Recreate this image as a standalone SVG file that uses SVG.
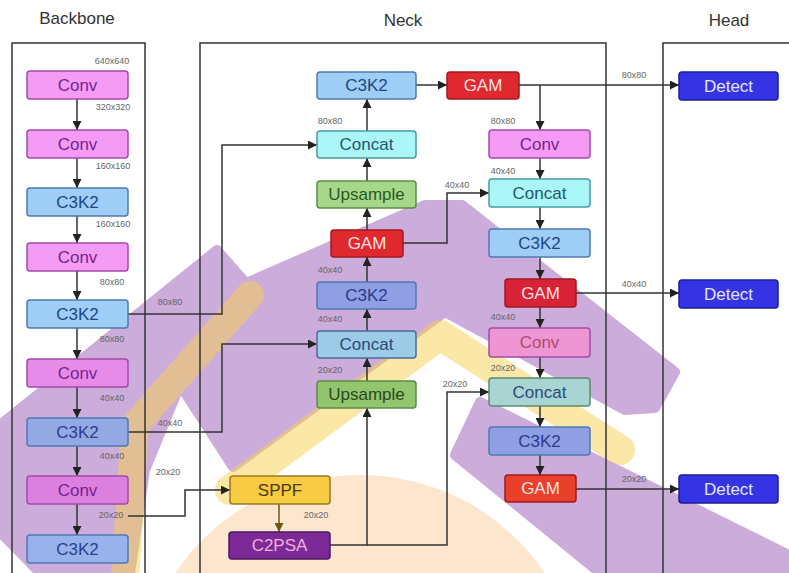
<svg xmlns="http://www.w3.org/2000/svg" width="789" height="573" viewBox="0 0 789 573">
<defs>
<marker id="arr" viewBox="0 0 10 10" refX="10" refY="5" markerWidth="9" markerHeight="9" markerUnits="userSpaceOnUse" orient="auto"><path d="M0,0 L10,5 L0,10 z" fill="#222"/></marker>
<marker id="arrO" viewBox="0 0 10 10" refX="10" refY="5" markerWidth="9" markerHeight="9" markerUnits="userSpaceOnUse" orient="auto"><path d="M0,0 L10,5 L0,10 z" fill="#6a5a10"/></marker>
<style>
.t{font-family:"Liberation Sans",Arial,sans-serif;font-size:17px;text-anchor:middle;dominant-baseline:central}
.ttl{font-family:"Liberation Sans",Arial,sans-serif;font-size:17px;fill:#333;text-anchor:middle}
.lb{font-family:"Liberation Sans",Arial,sans-serif;font-size:9px;fill:#666;text-anchor:middle}
.pn{fill:none;stroke:#333;stroke-width:1.5}
.ln{fill:none;stroke:#333;stroke-width:1.5}
.bx{stroke-width:1.5}
.pink{fill:#f49cf4;stroke:#a24aa8}
.pinkT{fill:#7a1f90}
.blue{fill:#9ecdf6;stroke:#4f79b3}
.blueT{fill:#1e4785}
.cyan{fill:#aaf6f8;stroke:#4a9a9e}
.cyanT{fill:#1f5a6a}
.green{fill:#a6d88c;stroke:#5d8a4a}
.greenT{fill:#2c5a1c}
.red{fill:#e0282f;stroke:#a01820}
.redT{fill:#fbe0e0}
.det{fill:#3434e4;stroke:#1c1c9c}
.detT{fill:#e4e4ff}
</style>
</defs>
<rect width="789" height="573" fill="#fff"/>
<g id="watermark">
<ellipse cx="360" cy="690" rx="220" ry="215" fill="#f8c890" opacity="0.45"/>
<g opacity="0.5" fill="#9a5cb8" stroke="#9a5cb8" stroke-width="10" stroke-linejoin="round">
<path d="M0,425 L217,250 L246,283 L425,205 L462,205 L675,372 L655,408 L625,410 L445,312 L233,467 L180,385 L145,470 L130,573 L40,573 L0,532 Z"/>
<path d="M480,402 L789,555 L789,573 L600,573 L455,455 Z"/>
</g>
<g opacity="0.5" fill="none" stroke="#f8d050" stroke-linecap="round" stroke-linejoin="round">
<polyline stroke-width="28" points="250,295 135,425 125,580"/>
<polyline stroke-width="30" points="230,490 440,335 620,450"/>
</g>
</g>
<g id="panels">
<text class="ttl" x="77" y="24">Backbone</text>
<text class="ttl" x="403" y="26">Neck</text>
<text class="ttl" x="729" y="26">Head</text>
<rect class="pn" x="12" y="43" width="133" height="560"/>
<rect class="pn" x="200" y="43" width="406" height="560"/>
<rect class="pn" x="663" y="43" width="160" height="560"/>
</g>
<g id="connectors">
<line class="ln" x1="77" y1="99" x2="77" y2="130" marker-end="url(#arr)"/>
<line class="ln" x1="77" y1="158" x2="77" y2="188" marker-end="url(#arr)"/>
<line class="ln" x1="77" y1="216" x2="77" y2="243" marker-end="url(#arr)"/>
<line class="ln" x1="77" y1="271" x2="77" y2="300" marker-end="url(#arr)"/>
<line class="ln" x1="77" y1="328" x2="77" y2="359" marker-end="url(#arr)"/>
<line class="ln" x1="77" y1="387" x2="77" y2="418" marker-end="url(#arr)"/>
<line class="ln" x1="77" y1="446" x2="77" y2="476" marker-end="url(#arr)"/>
<line class="ln" x1="77" y1="504" x2="77" y2="535" marker-end="url(#arr)"/>
<polyline class="ln" points="128,314 222,314 222,145 317,145" marker-end="url(#arr)"/>
<polyline class="ln" points="128,432 222,432 222,344 317,344" marker-end="url(#arr)"/>
<polyline class="ln" points="128,516 185,516 185,490 230,490" marker-end="url(#arr)"/>
<line x1="279" y1="504" x2="279" y2="532" stroke="#6a5a10" stroke-width="1.5" marker-end="url(#arrO)"/>
<polyline class="ln" points="330,545 367,545 367,408" marker-end="url(#arr)"/>
<polyline class="ln" points="367,545 447,545 447,392 489,392" marker-end="url(#arr)"/>
<line class="ln" x1="367" y1="381" x2="367" y2="358" marker-end="url(#arr)"/>
<line class="ln" x1="367" y1="331" x2="367" y2="309" marker-end="url(#arr)"/>
<line class="ln" x1="367" y1="282" x2="367" y2="257" marker-end="url(#arr)"/>
<line class="ln" x1="367" y1="230" x2="367" y2="208" marker-end="url(#arr)"/>
<line class="ln" x1="367" y1="181" x2="367" y2="158" marker-end="url(#arr)"/>
<line class="ln" x1="367" y1="131" x2="367" y2="99" marker-end="url(#arr)"/>
<line class="ln" x1="416" y1="85" x2="447" y2="85" marker-end="url(#arr)"/>
<polyline class="ln" points="403,243 447,243 447,193 489,193" marker-end="url(#arr)"/>
<line class="ln" x1="519" y1="85" x2="679" y2="85" marker-end="url(#arr)"/>
<line class="ln" x1="540" y1="85" x2="540" y2="130" marker-end="url(#arr)"/>
<line class="ln" x1="540" y1="158" x2="540" y2="179" marker-end="url(#arr)"/>
<line class="ln" x1="540" y1="207" x2="540" y2="229" marker-end="url(#arr)"/>
<line class="ln" x1="540" y1="257" x2="540" y2="279" marker-end="url(#arr)"/>
<line class="ln" x1="576" y1="293" x2="679" y2="293" marker-end="url(#arr)"/>
<line class="ln" x1="540" y1="307" x2="540" y2="328" marker-end="url(#arr)"/>
<line class="ln" x1="540" y1="357" x2="540" y2="378" marker-end="url(#arr)"/>
<line class="ln" x1="540" y1="406" x2="540" y2="427" marker-end="url(#arr)"/>
<line class="ln" x1="540" y1="455" x2="540" y2="475" marker-end="url(#arr)"/>
<line class="ln" x1="576" y1="489" x2="679" y2="489" marker-end="url(#arr)"/>
</g>
<g id="labels">
<text class="lb" x="112" y="64">640x640</text>
<text class="lb" x="113" y="110">320x320</text>
<text class="lb" x="113" y="169">160x160</text>
<text class="lb" x="113" y="227">160x160</text>
<text class="lb" x="112" y="285">80x80</text>
<text class="lb" x="112" y="342">80x80</text>
<text class="lb" x="112" y="401">40x40</text>
<text class="lb" x="112" y="459">40x40</text>
<text class="lb" x="111" y="518">20x20</text>
<text class="lb" x="170" y="305">80x80</text>
<text class="lb" x="170" y="426">40x40</text>
<text class="lb" x="168" y="475">20x20</text>
<text class="lb" x="330" y="124">80x80</text>
<text class="lb" x="330" y="273">40x40</text>
<text class="lb" x="330" y="322">40x40</text>
<text class="lb" x="330" y="373">20x20</text>
<text class="lb" x="316" y="518">20x20</text>
<text class="lb" x="503" y="124">80x80</text>
<text class="lb" x="503" y="174">40x40</text>
<text class="lb" x="457" y="188">40x40</text>
<text class="lb" x="503" y="320">40x40</text>
<text class="lb" x="503" y="371">20x20</text>
<text class="lb" x="455" y="387">20x20</text>
<text class="lb" x="634" y="78">80x80</text>
<text class="lb" x="634" y="287">40x40</text>
<text class="lb" x="634" y="482">20x20</text>
</g>
<g id="bb-conv1"><rect class="bx pink" x="27" y="71" width="101" height="28" rx="3"/><text class="t pinkT" x="77.5" y="85">Conv</text></g>
<g id="bb-conv2"><rect class="bx pink" x="27" y="130" width="101" height="28" rx="3"/><text class="t pinkT" x="77.5" y="144">Conv</text></g>
<g id="bb-c3k2-1"><rect class="bx blue" x="27" y="188" width="101" height="28" rx="3"/><text class="t blueT" x="77.5" y="202">C3K2</text></g>
<g id="bb-conv3"><rect class="bx pink" x="27" y="243" width="101" height="28" rx="3"/><text class="t pinkT" x="77.5" y="257">Conv</text></g>
<g id="bb-c3k2-2"><rect class="bx blue" x="27" y="300" width="101" height="28" rx="3"/><text class="t blueT" x="77.5" y="314">C3K2</text></g>
<g id="bb-conv4"><rect class="bx pink" x="27" y="359" width="101" height="28" rx="3" style="fill:#e68ce8"/><text class="t pinkT" x="77.5" y="373">Conv</text></g>
<g id="bb-c3k2-3"><rect class="bx blue" x="27" y="418" width="101" height="28" rx="3" style="fill:#92a9e4"/><text class="t" x="77.5" y="432" fill="#2a3f8f">C3K2</text></g>
<g id="bb-conv5"><rect class="bx pink" x="27" y="476" width="101" height="28" rx="3" style="fill:#dc80e0"/><text class="t pinkT" x="77.5" y="490">Conv</text></g>
<g id="bb-c3k2-4"><rect class="bx blue" x="27" y="535" width="101" height="28" rx="3" style="fill:#98b2ec"/><text class="t" x="77.5" y="549" fill="#2a3f8f">C3K2</text></g>
<g id="nk-c3k2-a"><rect class="bx blue" x="317" y="72" width="99" height="27" rx="3"/><text class="t blueT" x="366.5" y="85.5">C3K2</text></g>
<g id="nk-concat-a"><rect class="bx cyan" x="317" y="131" width="99" height="27" rx="3"/><text class="t cyanT" x="366.5" y="144.5">Concat</text></g>
<g id="nk-up-a"><rect class="bx green" x="317" y="181" width="99" height="27" rx="3"/><text class="t greenT" x="366.5" y="194.5">Upsample</text></g>
<g id="nk-gam-a"><rect class="bx red" x="331" y="230" width="72" height="27" rx="3"/><text class="t redT" x="367" y="243.5">GAM</text></g>
<g id="nk-c3k2-b"><rect class="bx blue" x="317" y="282" width="99" height="27" rx="3" style="fill:#8e9fe3"/><text class="t" x="366.5" y="295.5" fill="#2a3b8a">C3K2</text></g>
<g id="nk-concat-b"><rect class="bx cyan" x="317" y="331" width="99" height="27" rx="3" style="fill:#9ccbe6;stroke:#4a6a9a"/><text class="t" x="366.5" y="344.5" fill="#2a4a7a">Concat</text></g>
<g id="nk-up-b"><rect class="bx green" x="317" y="381" width="99" height="27" rx="3" style="fill:#93c46e"/><text class="t" x="366.5" y="394.5" fill="#2a4a1c">Upsample</text></g>
<g id="nk-sppf"><rect class="bx" x="230" y="476" width="100" height="28" rx="3" fill="#f7cb42" stroke="#9a7a20"/><text class="t" x="280" y="490" fill="#4a3810">SPPF</text></g>
<g id="nk-c2psa"><rect class="bx" x="229" y="532" width="101" height="27" rx="3" fill="#7c2a98" stroke="#4a1a60"/><text class="t" x="279.5" y="545.5" fill="#f3b0d8">C2PSA</text></g>
<g id="nk-gam-b"><rect class="bx red" x="447" y="72" width="72" height="27" rx="3"/><text class="t redT" x="483" y="85.5">GAM</text></g>
<g id="nk-conv-r1"><rect class="bx pink" x="489" y="130" width="101" height="28" rx="3"/><text class="t pinkT" x="539.5" y="144">Conv</text></g>
<g id="nk-concat-r1"><rect class="bx cyan" x="489" y="179" width="101" height="28" rx="3"/><text class="t cyanT" x="539.5" y="193">Concat</text></g>
<g id="nk-c3k2-r1"><rect class="bx blue" x="489" y="229" width="101" height="28" rx="3"/><text class="t blueT" x="539.5" y="243">C3K2</text></g>
<g id="nk-gam-r1"><rect class="bx red" x="505" y="279" width="71" height="28" rx="3" style="fill:#d82238"/><text class="t redT" x="540.5" y="293">GAM</text></g>
<g id="nk-conv-r2"><rect class="bx pink" x="489" y="328" width="101" height="29" rx="3" style="fill:#ee96d4"/><text class="t" x="539.5" y="342.5" fill="#b04a6a">Conv</text></g>
<g id="nk-concat-r2"><rect class="bx cyan" x="489" y="378" width="101" height="28" rx="3" style="fill:#a8d4d2;stroke:#5a8a6a"/><text class="t" x="539.5" y="392" fill="#2a4a7a">Concat</text></g>
<g id="nk-c3k2-r2"><rect class="bx blue" x="489" y="427" width="101" height="28" rx="3" style="fill:#8e9fe3"/><text class="t" x="539.5" y="441" fill="#2a3b8a">C3K2</text></g>
<g id="nk-gam-r2"><rect class="bx red" x="505" y="475" width="71" height="27" rx="3" style="fill:#e8402a"/><text class="t redT" x="540.5" y="488.5">GAM</text></g>
<g id="hd-detect1"><rect class="bx det" x="679" y="72" width="99" height="28" rx="3"/><text class="t detT" x="728.5" y="86">Detect</text></g>
<g id="hd-detect2"><rect class="bx det" x="679" y="280" width="99" height="28" rx="3"/><text class="t detT" x="728.5" y="294">Detect</text></g>
<g id="hd-detect3"><rect class="bx det" x="679" y="475" width="99" height="28" rx="3"/><text class="t detT" x="728.5" y="489">Detect</text></g>
</svg>
